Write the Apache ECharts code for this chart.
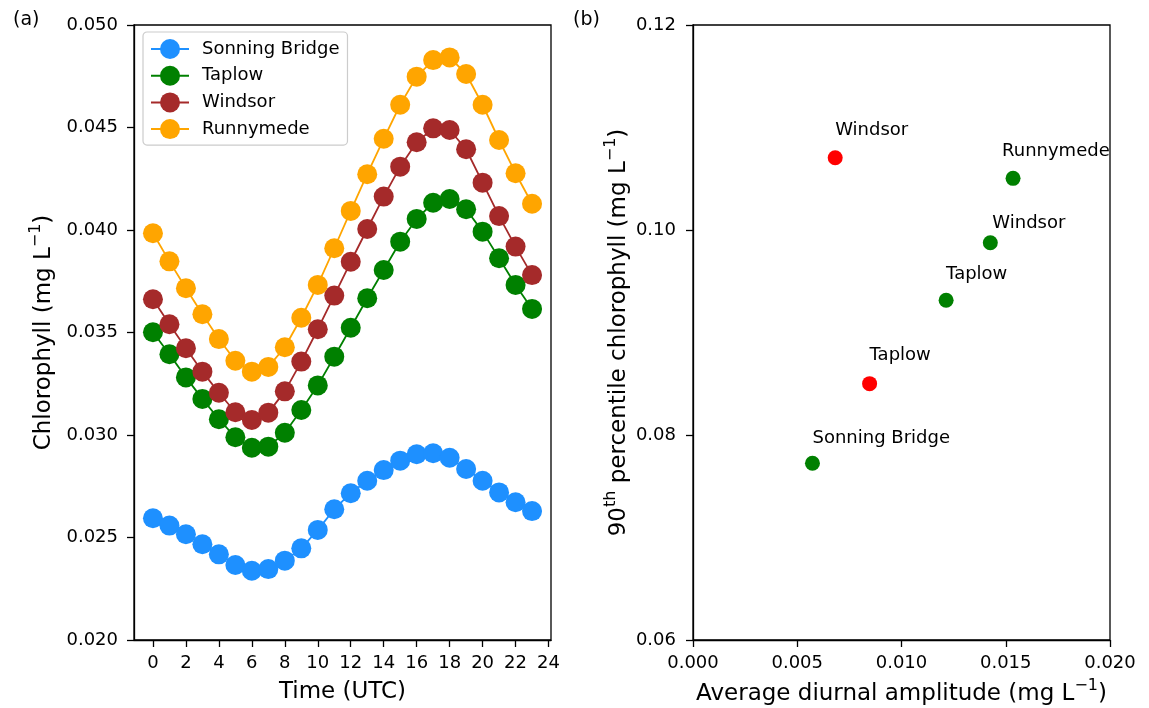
<!DOCTYPE html>
<html>
<head>
<meta charset="utf-8">
<script src="https://cdn.jsdelivr.net/npm/echarts@6/dist/echarts.min.js"></script>
<style>
html,body{margin:0;padding:0;background:#fff;}
#chart{width:1149px;height:708px;}
</style>
</head>
<body>
<div id="chart"></div>
<script>
// ---------- Data ----------
const hours = [0,1,2,3,4,5,6,7,8,9,10,11,12,13,14,15,16,17,18,19,20,21,22,23];
const xTickValues = [0,2,4,6,8,10,12,14,16,18,20,22,24];
const sonningBridge = [0.02594,0.02558,0.02516,0.02467,0.02418,0.02366,0.02338,0.02346,0.02387,0.02447,0.02537,0.02638,0.02716,0.02777,0.02829,0.02875,0.02906,0.02911,0.02889,0.02834,0.02777,0.02720,0.02672,0.02629];
const taplow = [0.03501,0.03394,0.03281,0.03176,0.03077,0.02989,0.02938,0.02943,0.03011,0.03122,0.03242,0.03382,0.03523,0.03667,0.03805,0.03943,0.04054,0.04133,0.04151,0.04101,0.03992,0.03862,0.03732,0.03615];
const windsor = [0.03662,0.03540,0.03423,0.03309,0.03206,0.03111,0.03073,0.03109,0.03213,0.03358,0.03516,0.03680,0.03845,0.04005,0.04163,0.04309,0.04428,0.04496,0.04488,0.04394,0.04231,0.04068,0.03919,0.03780];
const runnymede = [0.03984,0.03847,0.03716,0.03589,0.03468,0.03362,0.03309,0.03332,0.03428,0.03572,0.03732,0.03911,0.04093,0.04272,0.04445,0.04611,0.04748,0.04829,0.04842,0.04761,0.04611,0.04439,0.04277,0.04128];

// panel (b): red group and green group
const redSites = ['Windsor','Taplow'];
const redAmplitude = [0.00682,0.00847];
const redP90 = [0.10705,0.08501];
const greenSites = ['Sonning Bridge','Taplow','Windsor','Runnymede'];
const greenAmplitude = [0.00573,0.01214,0.01426,0.01535];
const greenP90 = [0.07724,0.09314,0.09876,0.10504];

// ---------- Styles ----------
const FONT = 'DejaVu Sans';
const lineColors = {'Sonning Bridge':'#1e90ff','Taplow':'#008000','Windsor':'#a52a2a','Runnymede':'#ffa500'};
// label offsets (px) for the annotations of panel (b)
const labelNudge = {'red|Windsor':[0,-27],'red|Taplow':[0,-28],'green|Sonning Bridge':[0,-25],'green|Taplow':[0,-26],'green|Windsor':[2,-19],'green|Runnymede':[-11,-27]};

function pairs(xs, ys){ return xs.map((x,i)=>[x, ys[i]]); }

function lineSeries(name, values){
  return {
    name: name, type:'line', xAxisIndex:0, yAxisIndex:0,
    data: pairs(hours, values),
    symbol:'circle', symbolSize:20,
    lineStyle:{color:lineColors[name], width:1.8},
    itemStyle:{color:lineColors[name], opacity:1},
    z: 2
  };
}

function scatterSeries(group, names, xs, ys, color){
  return {
    type:'scatter', xAxisIndex:1, yAxisIndex:1,
    symbol:'circle', symbolSize:15,
    itemStyle:{color:color, opacity:1},
    data: names.map((n,i)=>{
      const nd = labelNudge[group+'|'+n] || [0,-26];
      return {
        name:n, value:[xs[i], ys[i]],
        label:{show:true, formatter:n, position:[7.5+nd[0], 7.5+nd[1]], align:'left', verticalAlign:'middle',
               color:'#000', opacity:1, fontFamily:FONT, fontSize:18}
      };
    })
  };
}

const titleRich = {
  sup:{fontFamily:FONT, fontSize:16, color:'#000', verticalAlign:'top', lineHeight:16},
  n:{fontFamily:FONT, fontSize:23, color:'#000', lineHeight:32}
};

const axisCommon = {
  axisLine:{show:true, onZero:false, lineStyle:{color:'#000', width:1.3}},
  axisTick:{show:true, inside:false, length:7, lineStyle:{color:'#000', width:1.3}},
  splitLine:{show:false},
  axisLabel:{color:'#000', fontFamily:FONT, fontSize:18},
  nameTextStyle:{color:'#000', fontFamily:FONT, fontSize:23, rich:titleRich},
  nameLocation:'middle'
};

const chart = echarts.init(document.getElementById('chart'), null, {renderer:'canvas'});
const option = {
  animation:false,
  backgroundColor:'#fff',
  textStyle:{fontFamily:FONT},
  title:[
    {text:'(a)', left:8, top:6, textStyle:{fontFamily:FONT, fontSize:19, fontWeight:'normal', color:'#000'}},
    {text:'(b)', left:568, top:6, textStyle:{fontFamily:FONT, fontSize:19, fontWeight:'normal', color:'#000'}}
  ],
  grid:[
    {left:134, top:25, width:417, height:615, outerBoundsMode:'none', containLabel:false, show:true, borderColor:'#000', borderWidth:1.3, backgroundColor:'transparent'},
    {left:693, top:25, width:417, height:615, outerBoundsMode:'none', containLabel:false, show:true, borderColor:'#000', borderWidth:1.3, backgroundColor:'transparent'}
  ],
  legend:{
    data:['Sonning Bridge','Taplow','Windsor','Runnymede'],
    orient:'vertical', left:143, top:32,
    itemWidth:38, itemHeight:25, itemGap:6.7,
    padding:[7,8,6,7],
    borderColor:'#cccccc', borderWidth:1.2, borderRadius:4,
    backgroundColor:'rgba(255,255,255,0.85)',
    textStyle:{fontFamily:FONT, fontSize:18, color:'#000', padding:[0,0,0,8]}
  },
  xAxis:[
    Object.assign({}, axisCommon, {
      gridIndex:0, type:'value', min:-1.15, max:24.15,
      name:'{n|Time (UTC)}', nameGap:36,
      axisTick:Object.assign({}, axisCommon.axisTick, {customValues:xTickValues}),
      axisLabel:Object.assign({}, axisCommon.axisLabel, {customValues:xTickValues, margin:14})
    }),
    Object.assign({}, axisCommon, {
      gridIndex:1, type:'value', min:0, max:0.02, interval:0.005,
      name:'{n|Average diurnal amplitude (mg L}{sup|−1}{n|)}', nameGap:38,
      axisLabel:Object.assign({}, axisCommon.axisLabel, {margin:14, formatter:v=>v.toFixed(3)})
    })
  ],
  yAxis:[
    Object.assign({}, axisCommon, {
      gridIndex:0, type:'value', min:0.02, max:0.05, interval:0.005,
      name:'{n|Chlorophyll (mg L}{sup|−1}{n|)}', nameGap:74,
      axisLabel:Object.assign({}, axisCommon.axisLabel, {margin:16, formatter:v=>v.toFixed(3)})
    }),
    Object.assign({}, axisCommon, {
      gridIndex:1, type:'value', min:0.06, max:0.12, interval:0.02,
      name:'{n|90}{sup|th}{n| percentile chlorophyll (mg L}{sup|−1}{n|)}', nameGap:58,
      axisLabel:Object.assign({}, axisCommon.axisLabel, {margin:17, formatter:v=>v.toFixed(2)})
    })
  ],
  series:[
    lineSeries('Sonning Bridge', sonningBridge),
    lineSeries('Taplow', taplow),
    lineSeries('Windsor', windsor),
    lineSeries('Runnymede', runnymede),
    scatterSeries('red', redSites, redAmplitude, redP90, '#ff0000'),
    scatterSeries('green', greenSites, greenAmplitude, greenP90, '#008000')
  ]
};
chart.setOption(option);
</script>
</body>
</html>
